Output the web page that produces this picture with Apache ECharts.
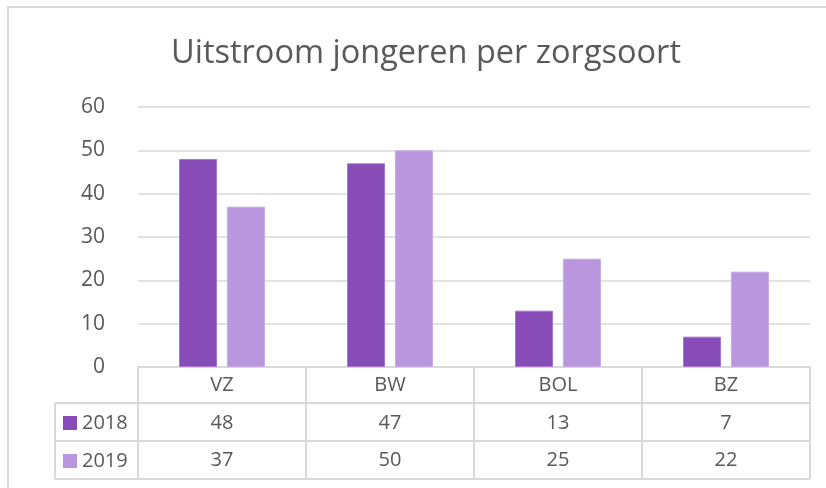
<!DOCTYPE html>
<html>
<head>
<meta charset="utf-8">
<script src="https://cdn.jsdelivr.net/npm/echarts@6/dist/echarts.min.js"></script>
<style>
  html, body { margin: 0; padding: 0; background: #fff; }
  #main { width: 826px; height: 488px; }
</style>
</head>
<body>
<div id="main"></div>
<script>
var categories = ['VZ', 'BW', 'BOL', 'BZ'];
var years = ['2018', '2019'];
var values2018 = [48, 47, 13, 7];
var values2019 = [37, 50, 25, 22];
var yTicks = { min: 0, max: 60, interval: 10 };

var myChart = echarts.init(document.getElementById('main'));

var font = 'Open Sans';
var textColor = '#595959';
var lineColor = '#d9d9d9';

// table geometry (layout only)
var tblLeft = 55, tblRight = 810;
var rowLines = [403, 441, 479];
var rowMid = [422, 460];

var graphics = [{
    type: 'rect',
    shape: { x: 8, y: 7, width: 830, height: 500 },
    style: { fill: 'none', stroke: lineColor, lineWidth: 2 },
    silent: true
}, {
    type: 'line',
    shape: { x1: tblLeft, y1: rowLines[0], x2: tblLeft, y2: rowLines[2] },
    style: { stroke: lineColor, lineWidth: 2 }
}];
rowLines.forEach(function (y) {
    graphics.push({
        type: 'line',
        shape: { x1: tblLeft, y1: y, x2: tblRight, y2: y },
        style: { stroke: lineColor, lineWidth: 2 }
    });
});

// one legend per table row
var legends = years.map(function (y, i) {
    return {
        left: 58,
        top: rowMid[i] - 14,
        itemWidth: 14,
        itemHeight: 14,
        itemGap: 0,
        icon: 'rect',
        data: [y],
        selectedMode: false,
        itemStyle: { borderWidth: 0 },
        textStyle: { fontFamily: font, fontSize: 20, color: textColor, padding: [0, 0, 0, 0] }
    };
});

var option = {
    animation: false,
    title: {
        text: 'Uitstroom jongeren per zorgsoort',
        left: 166,
        top: 32,
        textStyle: { fontFamily: font, fontSize: 32.5, fontWeight: 'normal', color: textColor }
    },
    legend: legends,
    grid: { left: 138, right: 16, top: 107, bottom: 121 },
    xAxis: {
        type: 'category',
        data: categories,
        axisLine: { lineStyle: { color: lineColor, width: 2 } },
        axisTick: { show: true, length: 112, lineStyle: { color: lineColor, width: 2 } },
        axisLabel: {
            margin: 0,
            lineHeight: 37.5,
            fontFamily: font,
            fontSize: 20,
            color: textColor,
            formatter: function (value, idx) {
                return value + '\n' + values2018[idx] + '\n' + values2019[idx];
            }
        }
    },
    yAxis: {
        type: 'value',
        min: yTicks.min,
        max: yTicks.max,
        interval: yTicks.interval,
        axisLine: { show: false },
        axisTick: { show: false },
        axisLabel: { margin: 33, fontFamily: font, fontSize: 21, color: textColor },
        splitLine: { lineStyle: { color: lineColor, width: 1.5 } }
    },
    series: [{
        name: years[0],
        type: 'bar',
        barWidth: 38,
        barGap: '26%',
        itemStyle: { color: '#874cb8', borderColor: '#a676d0', borderWidth: 1 },
        data: values2018
    }, {
        name: years[1],
        type: 'bar',
        barWidth: 38,
        barGap: '26%',
        itemStyle: { color: '#b996dd', borderColor: '#c9ace6', borderWidth: 1 },
        data: values2019
    }],
    graphic: graphics
};
myChart.setOption(option);
</script>
</body>
</html>
